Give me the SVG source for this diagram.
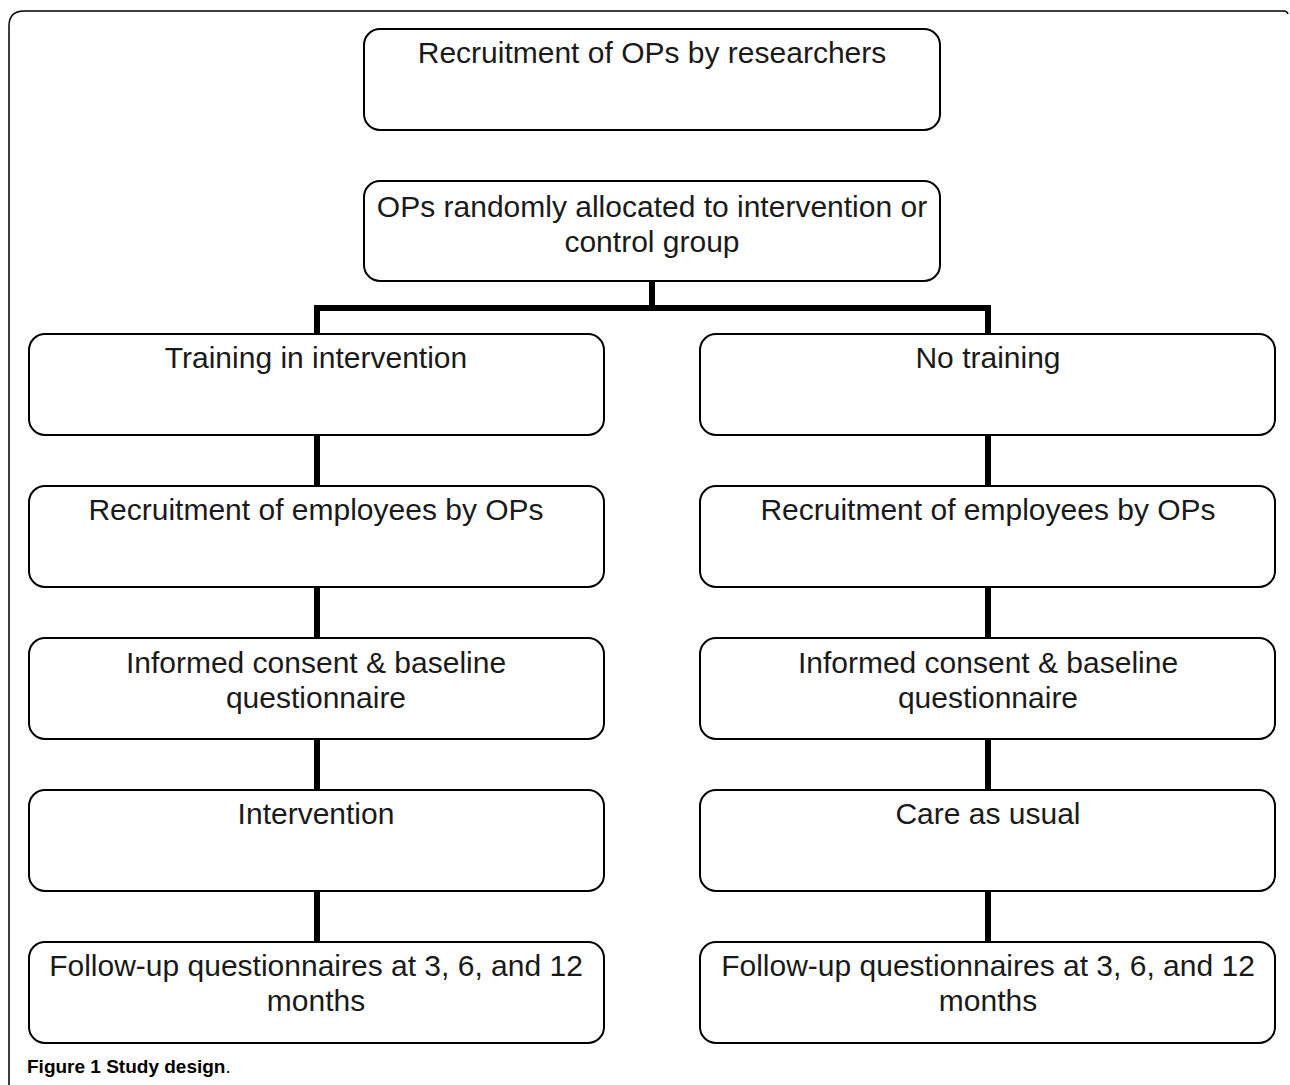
<svg xmlns="http://www.w3.org/2000/svg" width="1290" height="1085" viewBox="0 0 1290 1085">
<style>
.box{fill:#fff;stroke:#000;stroke-width:2}
.t{font-family:"Liberation Sans",Arial,sans-serif;font-size:30px;fill:#1a1a1a;text-anchor:middle}
.c{fill:none;stroke:#000;stroke-width:6;stroke-linejoin:miter}
.cap{font-family:"Liberation Sans",Arial,sans-serif;font-size:19px;fill:#000}
</style>
<rect width="1290" height="1085" fill="#fff"/>
<path d="M9,1085 V26 Q9,11 24,11 H1284 Q1287,11 1288,14" fill="none" stroke="#000" stroke-width="1.5"/>
<g id="connectors">
<path class="c" d="M652,281 V308"/>
<path class="c" d="M317,334 V308 H988 V334"/>
<path class="c" d="M317,435 V486"/>
<path class="c" d="M317,587 V638"/>
<path class="c" d="M317,739 V790"/>
<path class="c" d="M317,891 V942"/>
<path class="c" d="M988,435 V486"/>
<path class="c" d="M988,587 V638"/>
<path class="c" d="M988,739 V790"/>
<path class="c" d="M988,891 V942"/>
</g>
<g id="n1"><rect class="box" x="364" y="29" width="576" height="101" rx="16"/><text class="t" x="652" y="63">Recruitment of OPs by researchers</text></g>
<g id="n2"><rect class="box" x="364" y="181" width="576" height="100" rx="16"/><text class="t" x="652" y="217">OPs randomly allocated to intervention or</text><text class="t" x="652" y="252">control group</text></g>
<g id="l1"><rect class="box" x="29" y="334" width="575" height="101" rx="16"/><text class="t" x="316" y="368">Training in intervention</text></g>
<g id="r1"><rect class="box" x="700" y="334" width="575" height="101" rx="16"/><text class="t" x="988" y="368">No training</text></g>
<g id="l2"><rect class="box" x="29" y="486" width="575" height="101" rx="16"/><text class="t" x="316" y="520">Recruitment of employees by OPs</text></g>
<g id="r2"><rect class="box" x="700" y="486" width="575" height="101" rx="16"/><text class="t" x="988" y="520">Recruitment of employees by OPs</text></g>
<g id="l3"><rect class="box" x="29" y="638" width="575" height="101" rx="16"/><text class="t" x="316" y="673">Informed consent &amp; baseline</text><text class="t" x="316" y="708">questionnaire</text></g>
<g id="r3"><rect class="box" x="700" y="638" width="575" height="101" rx="16"/><text class="t" x="988" y="673">Informed consent &amp; baseline</text><text class="t" x="988" y="708">questionnaire</text></g>
<g id="l4"><rect class="box" x="29" y="790" width="575" height="101" rx="16"/><text class="t" x="316" y="824">Intervention</text></g>
<g id="r4"><rect class="box" x="700" y="790" width="575" height="101" rx="16"/><text class="t" x="988" y="824">Care as usual</text></g>
<g id="l5"><rect class="box" x="29" y="942" width="575" height="101" rx="16"/><text class="t" x="316" y="976">Follow-up questionnaires at 3, 6, and 12</text><text class="t" x="316" y="1011">months</text></g>
<g id="r5"><rect class="box" x="700" y="942" width="575" height="101" rx="16"/><text class="t" x="988" y="976">Follow-up questionnaires at 3, 6, and 12</text><text class="t" x="988" y="1011">months</text></g>
<text class="cap" x="27" y="1073"><tspan font-weight="bold">Figure 1 Study design</tspan>.</text>
</svg>
